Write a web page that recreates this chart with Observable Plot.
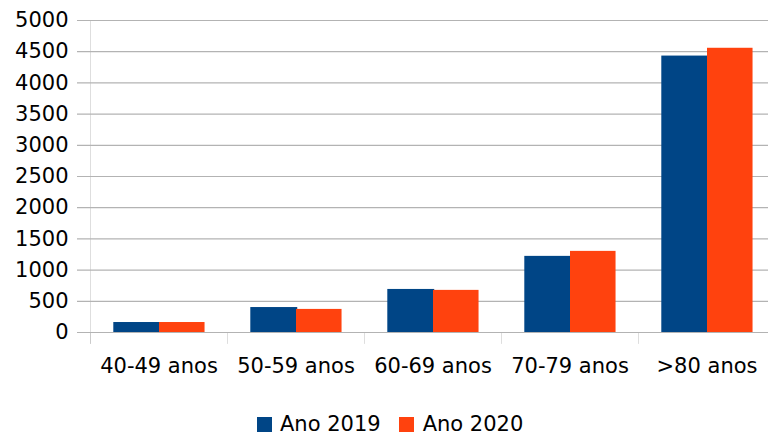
<!DOCTYPE html>
<html>
<head>
<meta charset="utf-8">
<script src="https://cdn.jsdelivr.net/npm/d3@7"></script>
<script src="https://cdn.jsdelivr.net/npm/@observablehq/plot@0.6"></script>
<style>
  body { margin: 0; background: #fff; font-family: "DejaVu Sans", sans-serif; }
  #wrap { position: relative; width: 768px; height: 436px; }
  #legend { position: absolute; top: 412px; left: 257px; display: flex; align-items: center; font-size: 21px; color: #000; }
  .sw { width: 15px; height: 15px; display: inline-block; }
</style>
</head>
<body>
<div id="wrap">
  <div id="chart"></div>
  <div id="legend"></div>
</div>
<script>
const categories = ["40-49 anos", "50-59 anos", "60-69 anos", "70-79 anos", ">80 anos"];
const seriesNames = ["Ano 2019", "Ano 2020"];
const values2019 = [160, 400, 690, 1220, 4430];
const values2020 = [160, 370, 675, 1300, 4555];
const yTicks = [0, 500, 1000, 1500, 2000, 2500, 3000, 3500, 4000, 4500, 5000];
const colors = ["#004586", "#ff420e"];

const d2019 = categories.map((c, i) => ({cat: c, value: values2019[i]}));
const d2020 = categories.map((c, i) => ({cat: c, value: values2020[i]}));

const bw = (776.5 - 87.7) / categories.length;
const grid = "#b3b3b3";

const plot = Plot.plot({
  width: 768,
  height: 392,
  marginTop: 20,
  marginBottom: 60,
  marginLeft: 77,
  marginRight: 0,
  style: {fontFamily: "DejaVu Sans, sans-serif", fontSize: "21px", color: "#000", background: "#fff"},
  x: {domain: categories, range: [87.7, 776.5], padding: 0, label: null},
  y: {domain: [0, 5000], label: null},
  marks: [
    Plot.ruleY(yTicks, {y: d => d, stroke: grid, strokeWidth: 1.2}),
    Plot.barY(categories, {x: d => d, y1: 0, y2: -190, insetRight: bw - 1.2, fill: grid}),
    Plot.barY([categories[0]], {x: d => d, y1: -190, y2: 5000, insetRight: bw - 1.2, fill: grid}),
    Plot.barY(d2019, {x: "cat", y: "value", fill: colors[0], insetLeft: 23.3, insetRight: bw - 71}),
    Plot.barY(d2020, {x: "cat", y: "value", fill: colors[1], insetLeft: 69.0, insetRight: bw - 115.3}),
    Plot.axisY({ticks: yTicks, tickSize: 0, tickPadding: 9, tickFormat: d => String(d), fontSize: 21}),
    Plot.axisX({tickSize: 0, tickPadding: 26, fontSize: 21})
  ]
});
document.getElementById("chart").appendChild(plot);

const legend = document.getElementById("legend");
const gaps = [[0, 8], [18, 9]];
seriesNames.forEach((name, i) => {
  const sw = document.createElement("span");
  sw.className = "sw";
  sw.style.background = colors[i];
  sw.style.marginLeft = gaps[i][0] + "px";
  const t = document.createElement("span");
  t.textContent = name;
  t.style.marginLeft = gaps[i][1] + "px";
  legend.appendChild(sw);
  legend.appendChild(t);
});
</script>
</body>
</html>
